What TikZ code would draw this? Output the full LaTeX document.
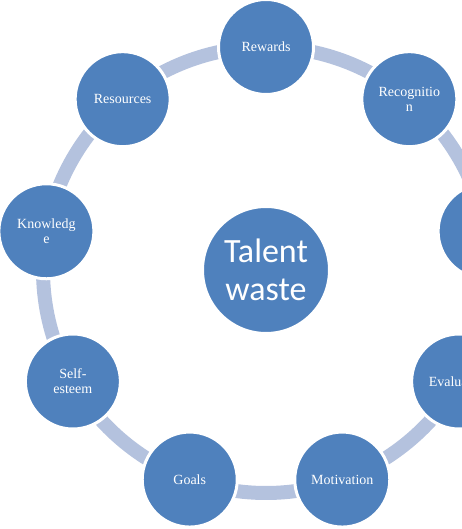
\documentclass[tikz,border=0pt]{standalone}
\usepackage{fontspec}
\setmainfont{Liberation Serif}
\newfontfamily\hubfont{Carlito}
\definecolor{wheelblue}{HTML}{4F81BD}
\definecolor{rimblue}{HTML}{B4C2DE}

\begin{document}
\begin{tikzpicture}[x=1pt, y=1pt,
    rim/.style={draw=rimblue, line width=14pt},
    spoke/.style={circle, fill=wheelblue, draw=white, line width=3pt,
      minimum size=95pt, inner sep=0pt, text=white, align=center,
      font=\fontsize{14}{15}\selectfont},
    hub/.style={spoke, minimum size=127pt, font=\hubfont\fontsize{34}{38}\selectfont}]
  \useasboundingbox (0,0) rectangle (462,529);
  \coordinate (ctr) at (266,259);
  % ring behind the circles
  \draw[rim] (ctr) circle (223pt);
  \foreach \a/\n/\t in {90/rewards/Rewards, 50/recog/{Recognitio\\n},
      10/blank/{}, -30/eval/Evaluation, -70/motiv/Motivation,
      -110/goals/Goals, -150/self/{Self-\\esteem}, 170/know/{Knowledg\\e},
      130/resour/Resources}{
    \node[spoke] (\n) at ([shift={(\a:223)}]ctr) {\t};
  }
  \node[hub] (talent) at (ctr) {Talent\\waste};
\end{tikzpicture}
\end{document}
